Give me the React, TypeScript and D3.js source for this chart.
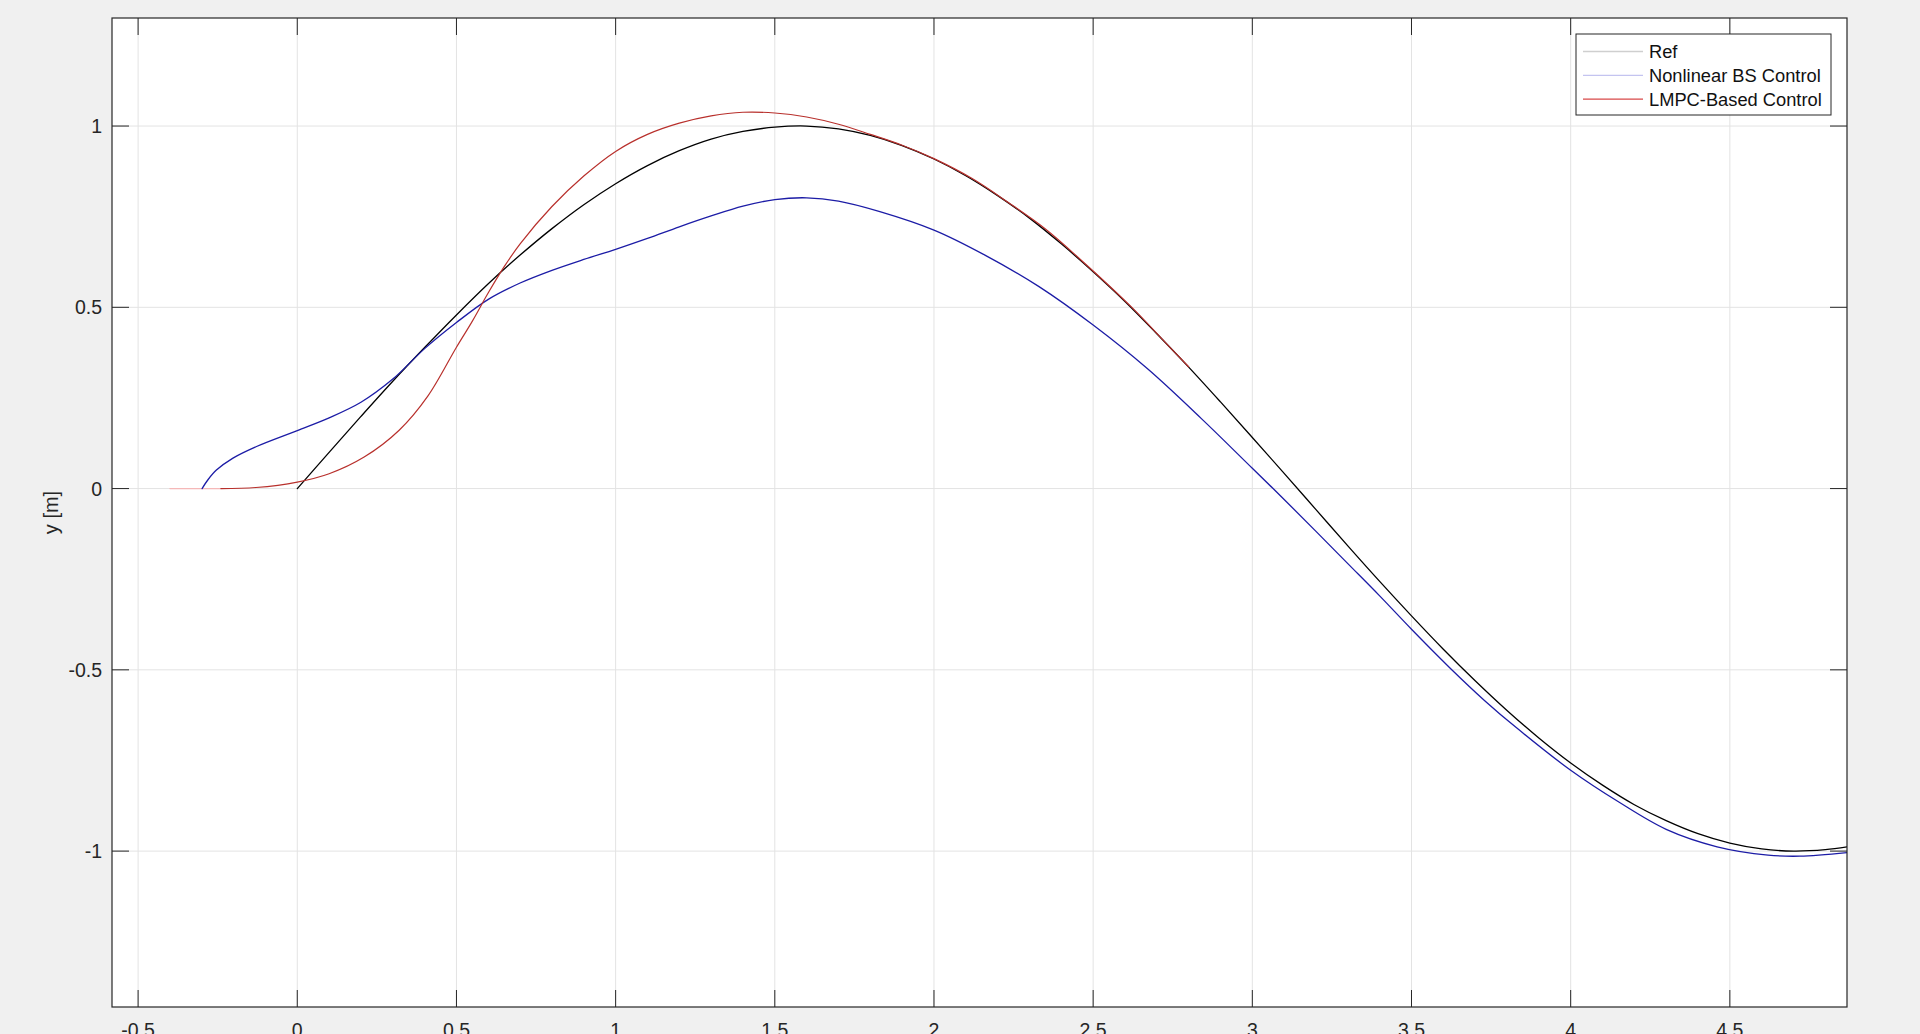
import React, { useEffect } from 'react';
import * as d3 from 'd3';

const W = 1920;
const H = 1034;

const xTicks = [-0.5, 0, 0.5, 1, 1.5, 2, 2.5, 3, 3.5, 4, 4.5];
const xTickLabels = ['-0.5', '0', '0.5', '1', '1.5', '2', '2.5', '3', '3.5', '4', '4.5'];
const yTicks = [-1, -0.5, 0, 0.5, 1];
const yTickLabels = ['-1', '-0.5', '0', '0.5', '1'];
const seriesNames = ['Ref', 'Nonlinear BS Control', 'LMPC-Based Control'];
const yLabel = 'y [m]';

// Reference trajectory (black)
const refX = [0, 0.1, 0.2, 0.3, 0.4, 0.5, 0.6, 0.7, 0.8, 0.9, 1.0, 1.1, 1.2, 1.3, 1.4, 1.5, 1.6, 1.7, 1.8, 1.9, 2.0, 2.1, 2.2, 2.3, 2.4, 2.5, 2.6, 2.7, 2.8, 2.9, 3.0, 3.1, 3.2, 3.3, 3.4, 3.5, 3.6, 3.7, 3.8, 3.9, 4.0, 4.1, 4.2, 4.3, 4.4, 4.5, 4.6, 4.7, 4.8, 4.87];
const refY = [0, 0.1, 0.199, 0.296, 0.389, 0.479, 0.565, 0.644, 0.717, 0.783, 0.841, 0.891, 0.932, 0.964, 0.985, 0.997, 1.0, 0.992, 0.974, 0.946, 0.909, 0.863, 0.808, 0.746, 0.675, 0.598, 0.516, 0.427, 0.335, 0.239, 0.141, 0.042, -0.058, -0.158, -0.256, -0.351, -0.443, -0.53, -0.612, -0.688, -0.757, -0.818, -0.872, -0.916, -0.952, -0.978, -0.994, -1.0, -0.996, -0.988];

// Nonlinear BS Control (blue)
const bsX = [-0.299, -0.28, -0.254, -0.202, -0.128, 0, 0.1, 0.2, 0.3, 0.4, 0.5, 0.6, 0.7, 0.8, 0.9, 1.0, 1.1, 1.2, 1.3, 1.4, 1.5, 1.6, 1.7, 1.83, 2.0, 2.16, 2.33, 2.5, 2.67, 2.84, 3.0, 3.1, 3.2, 3.3, 3.4, 3.5, 3.62, 3.73, 3.83, 4.0, 4.15, 4.3, 4.46, 4.62, 4.72, 4.87];
const bsY = [0, 0.025, 0.051, 0.084, 0.116, 0.16, 0.195, 0.238, 0.302, 0.386, 0.458, 0.522, 0.567, 0.602, 0.632, 0.66, 0.69, 0.722, 0.752, 0.779, 0.797, 0.802, 0.793, 0.764, 0.713, 0.644, 0.557, 0.451, 0.331, 0.193, 0.056, -0.03, -0.118, -0.207, -0.296, -0.388, -0.494, -0.585, -0.66, -0.777, -0.864, -0.94, -0.988, -1.011, -1.014, -1.004];

// LMPC-Based Control (red)
const lmpcX = [-0.4, -0.24, -0.13, 0, 0.1, 0.21, 0.32, 0.41, 0.5, 0.55, 0.6, 0.65, 0.7, 0.8, 0.9, 1.0, 1.1, 1.2, 1.3, 1.4, 1.5, 1.6, 1.7, 1.8, 1.9, 2.0, 2.12, 2.23, 2.35, 2.46, 2.62, 2.73, 2.8];
const lmpcY = [0, 0, 0.003, 0.018, 0.041, 0.087, 0.161, 0.255, 0.39, 0.462, 0.54, 0.612, 0.675, 0.778, 0.862, 0.93, 0.977, 1.008, 1.028, 1.038, 1.036, 1.025, 1.005, 0.977, 0.947, 0.91, 0.855, 0.791, 0.716, 0.632, 0.501, 0.4, 0.336];

const PL = 112, PR = 1847, PT = 18, PB = 1007;
const FONT = '"Liberation Sans", Arial, Helvetica, sans-serif';

export default function App() {
  useEffect(() => {
    document.body.style.margin = '0';
    document.body.style.overflow = 'hidden';
    document.body.style.background = '#f0f0f0';
  }, []);

  const x = d3.scaleLinear().domain([-0.582, 4.868]).range([PL, PR]);
  const y = d3.scaleLinear().domain([-1.43, 1.298]).range([PB, PT]);

  const line = d3
    .line<[number, number]>()
    .x((d) => x(d[0]))
    .y((d) => y(d[1]))
    .curve(d3.curveCatmullRom.alpha(0.5));

  const refPts = refX.map((v, i) => [v, refY[i]] as [number, number]);
  const bsPts = bsX.map((v, i) => [v, bsY[i]] as [number, number]);
  const lmpcPts = lmpcX.map((v, i) => [v, lmpcY[i]] as [number, number]);
  const lmpcFaint = lmpcPts.filter((d) => d[0] <= -0.24);
  const lmpcMain = lmpcPts.filter((d) => d[0] >= -0.24);

  const tickLen = 17;
  const axisColor = '#262626';
  const gridColor = '#e3e3e3';

  const legendItems = [
    { name: seriesNames[0], color: '#cfcfcf' },
    { name: seriesNames[1], color: '#c4c4f0' },
    { name: seriesNames[2], color: '#d84848' },
  ];
  const LX = 1576, LY = 34, LW = 255, LH = 81;

  return (
    <svg width={W} height={H} style={{ display: 'block', background: '#f0f0f0' }}>
      <defs>
        <clipPath id="plotclip">
          <rect x={PL} y={PT} width={PR - PL} height={PB - PT} />
        </clipPath>
      </defs>
      <rect x={PL} y={PT} width={PR - PL} height={PB - PT} fill="#ffffff" />
      {/* grid */}
      {xTicks.map((t) => (
        <line key={'gx' + t} x1={x(t)} x2={x(t)} y1={PT} y2={PB} stroke={gridColor} strokeWidth={1} />
      ))}
      {yTicks.map((t) => (
        <line key={'gy' + t} x1={PL} x2={PR} y1={y(t)} y2={y(t)} stroke={gridColor} strokeWidth={1} />
      ))}
      {/* data */}
      <g clipPath="url(#plotclip)" fill="none" strokeLinejoin="round" strokeLinecap="round">
        <path d={line(lmpcFaint) || ''} stroke="#f5b8b8" strokeWidth={1.3} />
        <path d={line(refPts) || ''} stroke="#000000" strokeWidth={1.3} />
        <path d={line(bsPts) || ''} stroke="#1c1ca6" strokeWidth={1.3} />
        <path d={line(lmpcMain) || ''} stroke="#b8302c" strokeWidth={1.2} />
      </g>
      {/* ticks */}
      {xTicks.map((t) => (
        <g key={'tx' + t}>
          <line x1={x(t)} x2={x(t)} y1={PB} y2={PB - tickLen} stroke={axisColor} strokeWidth={1} />
          <line x1={x(t)} x2={x(t)} y1={PT} y2={PT + tickLen} stroke={axisColor} strokeWidth={1} />
        </g>
      ))}
      {yTicks.map((t) => (
        <g key={'ty' + t}>
          <line x1={PL} x2={PL + tickLen} y1={y(t)} y2={y(t)} stroke={axisColor} strokeWidth={1} />
          <line x1={PR} x2={PR - tickLen} y1={y(t)} y2={y(t)} stroke={axisColor} strokeWidth={1} />
        </g>
      ))}
      {/* box */}
      <rect x={PL} y={PT} width={PR - PL} height={PB - PT} fill="none" stroke={axisColor} strokeWidth={1.2} />
      {/* tick labels */}
      {yTicks.map((t, i) => (
        <text key={'ly' + t} x={PL - 10} y={y(t)} dy="0.36em" textAnchor="end" fontFamily={FONT} fontSize={19.5} fill="#262626">
          {yTickLabels[i]}
        </text>
      ))}
      {xTicks.map((t, i) => (
        <text key={'lx' + t} x={x(t)} y={PB + 30} textAnchor="middle" fontFamily={FONT} fontSize={19.5} fill="#262626">
          {xTickLabels[i]}
        </text>
      ))}
      <text transform={`translate(51,${(PT + PB) / 2}) rotate(-90)`} textAnchor="middle" dy="0.35em" fontFamily={FONT} fontSize={20} fill="#262626">
        {yLabel}
      </text>
      {/* legend */}
      <rect x={LX} y={LY} width={LW} height={LH} fill="#ffffff" stroke={axisColor} strokeWidth={1} />
      {legendItems.map((it, i) => {
        const cy = LY + 17.5 + i * 23.8;
        return (
          <g key={it.name}>
            <line x1={LX + 7} x2={LX + 67} y1={cy} y2={cy} stroke={it.color} strokeWidth={1.3} />
            <text x={LX + 73} y={cy} dy="0.36em" fontFamily={FONT} fontSize={18.3} fill="#111">
              {it.name}
            </text>
          </g>
        );
      })}
    </svg>
  );
}
